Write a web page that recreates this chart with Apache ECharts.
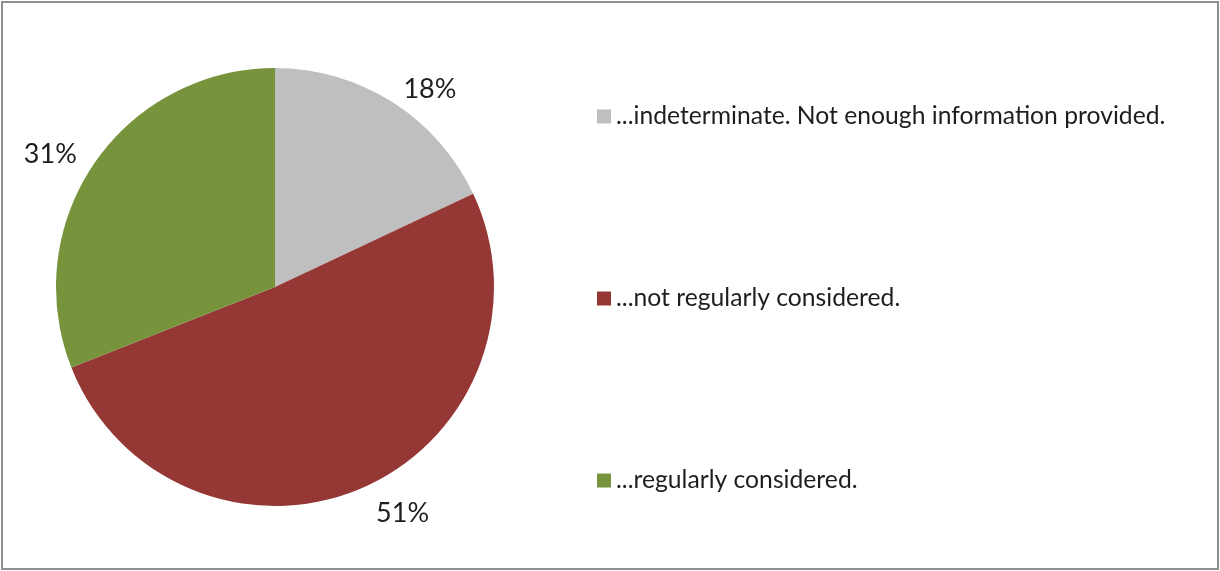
<!DOCTYPE html>
<html>
<head>
<meta charset="utf-8">
<script src="https://cdn.jsdelivr.net/npm/echarts@6/dist/echarts.min.js"></script>
<style>
html,body{margin:0;padding:0;background:#fff;}
#chart{width:1220px;height:571px;}
</style>
</head>
<body>
<div id="chart"></div>
<script>
const categories = [
  '...indeterminate. Not enough information provided.',
  '...not regularly considered.',
  '...regularly considered.'
];
const values = [18, 51, 31];
const colors = ['#BFBFBF', '#953735', '#77933C'];
const labelLineLengths = [15, 28, 17];

const chart = echarts.init(document.getElementById('chart'));
chart.setOption({
  animation: false,
  backgroundColor: '#ffffff',
  graphic: [{
    type: 'rect',
    shape: { x: 2, y: 2, width: 1216, height: 567 },
    style: { fill: 'none', stroke: '#8f8f8f', lineWidth: 2 },
    silent: true
  }],
  legend: {
    orient: 'vertical',
    left: 592,
    top: 99,
    itemWidth: 14,
    itemHeight: 14,
    itemGap: 157,
    icon: 'rect',
    data: categories,
    textStyle: { fontFamily: 'Lato', fontSize: 24.7, color: '#1e1e1e', lineHeight: 24, padding: [0, 0, 0, 0] }
  },
  series: [{
    type: 'pie',
    center: [275, 287],
    radius: 219,
    startAngle: 90,
    clockwise: true,
    avoidLabelOverlap: false,
    data: categories.map((c, i) => ({
      name: c,
      value: values[i],
      itemStyle: { color: colors[i] },
      labelLine: { show: false, length: labelLineLengths[i], length2: 0 }
    })),
    itemStyle: { borderWidth: 0 },
    label: {
      show: true,
      position: 'outside',
      formatter: p => p.value + '%',
      fontFamily: 'Lato',
      fontSize: 27,
      color: '#1e1e1e',
      distanceToLabelLine: 3
    },
    emphasis: { disabled: true }
  }]
});
</script>
</body>
</html>
